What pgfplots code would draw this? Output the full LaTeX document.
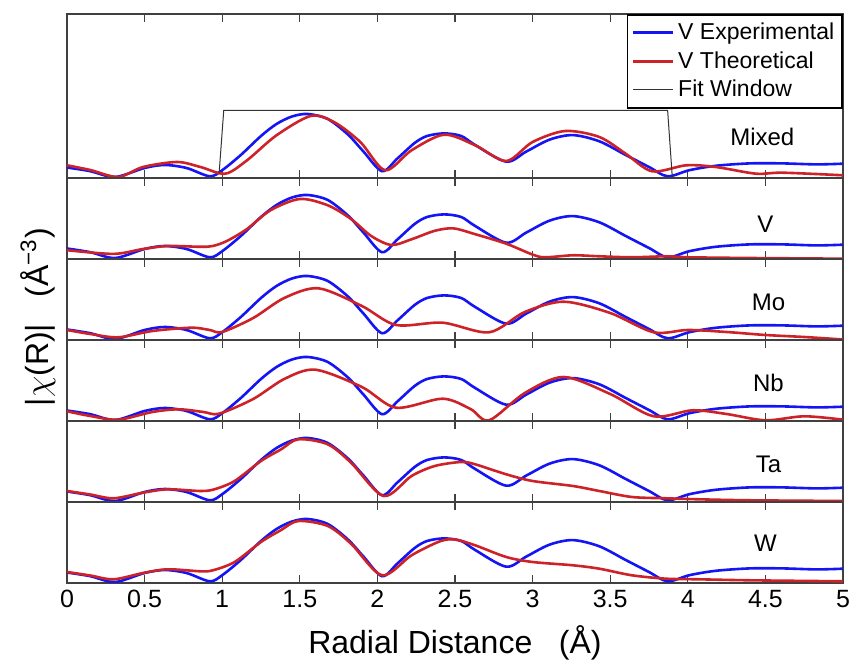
\documentclass[border=0pt]{standalone}
\usepackage{fontspec}
\setmainfont{Liberation Sans}
\usepackage{pgfplots}
\pgfplotsset{compat=1.18}
\definecolor{expblue}{RGB}{20,20,245}
\definecolor{thred}{RGB}{205,35,40}
\tikzset{plab/.style={font=\fontsize{12}{14}\selectfont}}
\pgfplotsset{
  panel/.style={scale only axis, width=388pt, xmin=0, xmax=5, ymin=0,
    ytick=\empty, xtick={0,0.5,1,1.5,2,2.5,3,3.5,4,4.5,5}, xticklabels={},
    tick align=inside, xtick pos=both, major tick length=4pt,
    axis line style={black!75, line width=0.8pt}, tick style={black!75, line width=0.6pt},
    /pgf/number format/assume math mode=true},
  expc/.style={expblue, line width=1.3pt, smooth, tension=0.5, no marks},
  thc/.style={thred, line width=1.3pt, smooth, tension=0.5, no marks},
}
% experimental V curve (same in every panel)
\newcommand{\expdata}{(0,10.5)(0.15,6.8)(0.31,1)(0.5,10)(0.63,13)(0.77,10)(0.92,1.7)(1.0,7.8)(1.12,23)(1.25,42)(1.35,54)(1.45,61.5)(1.55,64)(1.68,59)(1.81,43.5)(1.91,26.5)(2.03,6.8)(2.13,19.7)(2.24,35)(2.32,42)(2.43,44.6)(2.54,42)(2.63,33)(2.83,16.3)(2.96,26.5)(3.11,38.4)(3.26,42.9)(3.43,36.7)(3.60,23)(3.75,11)(3.87,1.7)(4.01,7.8)(4.18,12.2)(4.40,14.6)(4.61,14.6)(4.83,13.6)(5,14.3)}
\begin{document}
\begin{tikzpicture}
\useasboundingbox (-33.5pt,-39.5pt) rectangle (391.5pt,291.5pt);
% ---- Mixed (top)
\begin{axis}[panel, at={(0,202.5pt)}, anchor=south west, height=82pt, ymax=164,
  legend style={at={(1,1)}, anchor=north east, font=\fontsize{11.5}{14}\selectfont,
    draw=black, line width=0.8pt, inner sep=2pt, row sep=0.5pt, cells={anchor=west}},
  legend image code/.code={\draw[#1] (0pt,0pt) -- (20pt,0pt);}]
\addplot[expc] coordinates {\expdata};
\addplot[thc] coordinates {(0,12.7)(0.15,8)(0.33,1)(0.49,11)(0.71,16)(0.86,11)(1.02,4.3)(1.16,17.7)(1.35,42.7)(1.57,62)(1.72,56)(1.89,36)(2.05,7.7)(2.22,27.7)(2.43,43.3)(2.63,32.7)(2.83,17)(3.0,36)(3.21,47)(3.43,41)(3.6,24.3)(3.77,6.7)(3.99,12.7)(4.18,11)(4.44,4.3)(4.61,5.3)(5,2.7)};
\addplot[black!80, line width=0.5pt, sharp plot] coordinates {(0.98,4.3)(1.01,67.7)(3.87,67.7)(3.90,1)};
\legend{V Experimental, V Theoretical, Fit Window}
\node[plab] at (axis cs:4.48,41) {Mixed};
\end{axis}
% ---- V
\begin{axis}[panel, at={(0,162pt)}, anchor=south west, height=40.5pt, ymax=81]
\addplot[expc] coordinates {\expdata};
\addplot[thc] coordinates {(0,8.8)(0.30,5.1)(0.49,10)(0.65,13)(0.86,12.2)(0.94,13)(1.03,18)(1.16,30)(1.31,48.6)(1.5,60)(1.68,53.7)(1.83,40)(1.96,23)(2.09,14)(2.22,19.7)(2.37,28.2)(2.49,30.6)(2.63,24.8)(2.83,15.3)(3.0,4.4)(3.08,1.7)(3.26,3.7)(3.43,2.7)(3.64,1.7)(3.86,2.7)(4.01,1.7)(4.4,1)(5,0.3)};
\node[plab] at (axis cs:4.5,35) {V};
\end{axis}
% ---- Mo
\begin{axis}[panel, at={(0,121.5pt)}, anchor=south west, height=40.5pt, ymax=81]
\addplot[expc] coordinates {\expdata};
\addplot[thc] coordinates {(0,10)(0.15,6)(0.33,2.7)(0.55,9)(0.8,12.3)(0.92,10)(1.0,8)(1.2,22)(1.4,42)(1.62,51.7)(1.9,34)(2.12,15)(2.42,17.3)(2.72,7.7)(2.95,28)(3.2,38.3)(3.5,27)(3.78,7.7)(4.0,10)(4.25,8)(4.5,5)(4.75,3)(5,0.5)};
\node[plab] at (axis cs:4.52,38) {Mo};
\end{axis}
% ---- Nb
\begin{axis}[panel, at={(0,81pt)}, anchor=south west, height=40.5pt, ymax=81]
\addplot[expc] coordinates {\expdata};
\addplot[thc] coordinates {(0,9.7)(0.15,5)(0.33,1.3)(0.55,9)(0.72,11.7)(0.88,9)(0.98,7.3)(1.2,22)(1.4,42)(1.6,51.3)(1.9,34)(2.12,13.3)(2.42,22.3)(2.6,12)(2.72,0.7)(2.95,28)(3.2,44)(3.5,27)(3.78,4.7)(4.03,10.7)(4.25,7)(4.5,0.7)(4.75,4.7)(5,1.3)};
\node[plab] at (axis cs:4.52,38) {Nb};
\end{axis}
% ---- Ta
\begin{axis}[panel, at={(0,40.5pt)}, anchor=south west, height=40.5pt, ymax=81]
\addplot[expc] coordinates {\expdata};
\addplot[thc] coordinates {(0,11)(0.15,7.5)(0.3,3.7)(0.49,9.3)(0.65,12.7)(0.86,11)(0.95,12.7)(1.08,21)(1.25,41)(1.38,52.7)(1.49,62.7)(1.68,57.7)(1.83,39.3)(2.04,6)(2.22,26)(2.37,36)(2.54,40)(2.63,37.7)(2.83,27.7)(3.0,21)(3.26,16)(3.43,11)(3.64,5)(3.86,3.7)(4.07,2.7)(4.4,1.7)(5,1)};
\node[plab] at (axis cs:4.52,38) {Ta};
\end{axis}
% ---- W (bottom)
\begin{axis}[panel, at={(0,0pt)}, anchor=south west, height=40.5pt, ymax=81,
  xticklabels={0,0.5,1,1.5,2,2.5,3,3.5,4,4.5,5},
  xticklabel style={font=\fontsize{12.5}{14}\selectfont},
  xlabel={Radial Distance \ \ (Å)}, xlabel style={font=\fontsize{16}{18}\selectfont, yshift=-2pt}]
\addplot[expc] coordinates {\expdata};
\addplot[thc] coordinates {(0,11)(0.15,7.5)(0.3,3.7)(0.49,10)(0.65,13.7)(0.86,11.7)(0.94,12.7)(1.08,21)(1.25,41)(1.38,53)(1.49,62)(1.68,57)(1.83,39.3)(2.03,7.7)(2.22,27.7)(2.40,41.5)(2.5,43.5)(2.63,37.7)(2.83,26)(3.0,21)(3.26,17.7)(3.43,14.3)(3.64,7.7)(3.86,4.3)(4.07,3.7)(4.4,2.7)(5,1.7)};
\node[plab] at (axis cs:4.5,40) {W};
\end{axis}
\node[rotate=90, font=\fontsize{16}{18}\selectfont] at (-14.5pt,133pt) {|$\chi$(R)| \ \ (Å\textsuperscript{−3})};
\end{tikzpicture}
\end{document}
